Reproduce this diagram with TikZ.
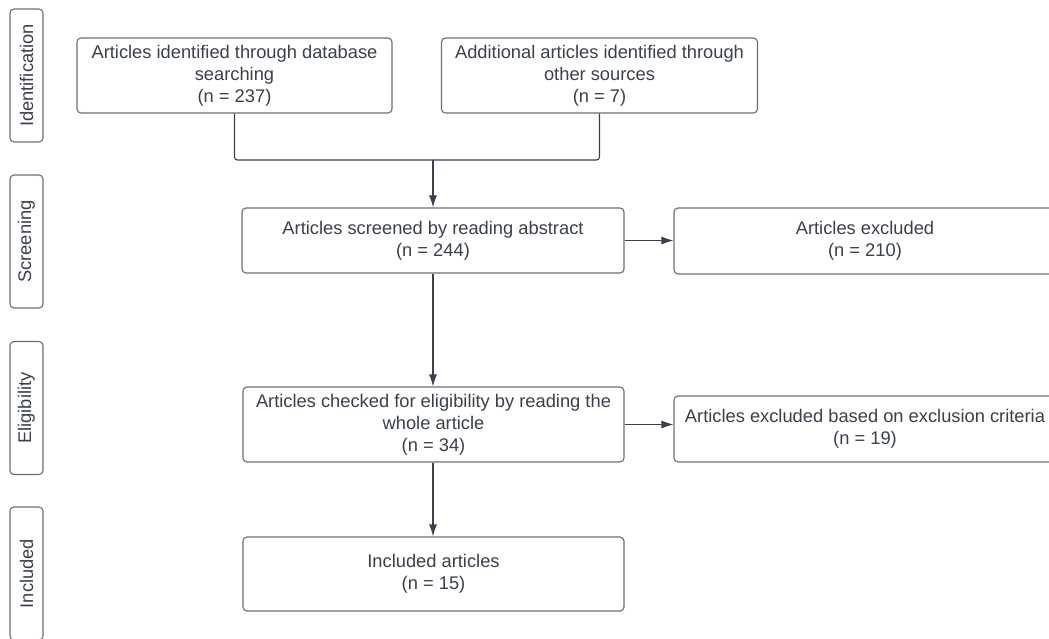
\documentclass[tikz,border=0pt]{standalone}
\usepackage{fontspec}
\setmainfont{Liberation Sans}
\usetikzlibrary{arrows.meta}
\definecolor{txt}{HTML}{3A414A}
\definecolor{brd}{HTML}{6A6F76}
\definecolor{lnk}{HTML}{3A414A}
\tikzset{
  box/.style={draw=brd, line width=1.1pt, rounded corners=4pt, fill=white,
    text=txt, align=center, inner sep=2pt,
    font=\fontsize{18.3}{22}\selectfont},
  phase/.style={draw=brd, line width=1.1pt, rounded corners=4pt,
    text=txt, rotate=90, minimum width=133pt, minimum height=33pt,
    inner sep=1pt, font=\fontsize{18.3}{22}\selectfont},
  link/.style={draw=lnk, line width=1.1pt, rounded corners=3pt},
  arr/.style={link, -{Latex[length=12pt,width=8pt]}}
}
\begin{document}
\begin{tikzpicture}[x=1pt,y=-1pt]
\clip (0,0) rectangle (1049,639);
\fill[white] (0,0) rectangle (1049,639);

% phase labels
\node[phase] (pid) at (26.5,75.5) {Identification};
\node[phase] (psc) at (26.5,241.5) {Screening};
\node[phase] (pel) at (26.5,408) {Eligibility};
\node[phase] (pin) at (26.5,573.5) {Included};

% boxes
\node[box, minimum width=315pt, minimum height=75pt] (b1) at (234.5,75.5)
  {Articles identified through database\\searching\\(n = 237)};
\node[box, minimum width=316pt, minimum height=75pt] (b2) at (599.5,75.5)
  {Additional articles identified through\\other sources\\(n = 7)};
\node[box, minimum width=382pt, minimum height=65pt] (b3) at (433,240.5)
  {Articles screened by reading abstract\\(n = 244)};
\node[box, minimum width=382pt, minimum height=66pt] (b4) at (865,241)
  {Articles excluded\\(n = 210)};
\node[box, minimum width=381pt, minimum height=75pt] (b5) at (433.5,424.5)
  {Articles checked for eligibility by reading the\\whole article\\(n = 34)};
\node[box, minimum width=382pt, minimum height=66pt] (b6) at (865,429)
  {Articles excluded based on exclusion criteria\\(n = 19)};
\node[box, minimum width=381pt, minimum height=74pt] (b7) at (433.5,574)
  {Included articles\\(n = 15)};

% connectors
\coordinate (j) at (433,160);
\draw[link] (b1.south) |- (j);
\draw[link] (b2.south) |- (j);
\draw[arr] (j) -- (b3.north);
\draw[arr] (b3.east) -- (b4.west |- b3.east);
\draw[arr] (b3.south) -- (b5.north -| b3.south);
\draw[arr] (b5.east) -- (b6.west |- b5.east);
\draw[arr] (b5.south -| b3.south) -- (b7.north -| b3.south);
\end{tikzpicture}
\end{document}
